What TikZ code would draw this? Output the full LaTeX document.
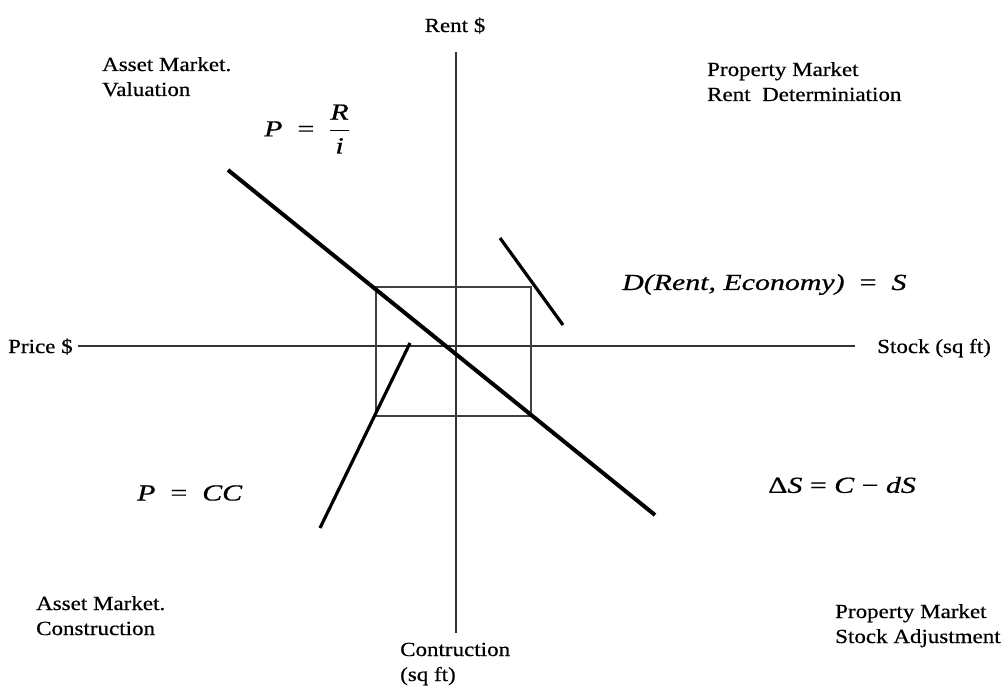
\documentclass[tikz,border=0pt]{standalone}
\usepackage{fontspec}
\setmainfont{Liberation Serif}
\newfontfamily\lblfont[FakeStretch=1.15,FakeBold=0.6]{Liberation Serif}
\newfontfamily\eqfont[FakeStretch=1.3,FakeBold=0.7]{Liberation Serif}
\begin{document}
\begin{tikzpicture}[x=1pt,y=-1pt,
  lbl/.style={anchor=base west,inner sep=0pt,font=\lblfont\fontsize{20}{25}\selectfont,align=left},
  eq/.style={inner sep=0pt,font=\eqfont\fontsize{23}{26}\selectfont\itshape},
  axis/.style={line width=1.8pt,draw=black!80},
  box/.style={line width=1.6pt,draw=black!75},
  curve/.style={line width=4pt,draw=black},
  curvethin/.style={line width=3.2pt,draw=black}]
\useasboundingbox (0,0) rectangle (1007,687);
% axes
\coordinate (vt) at (456,52);
\coordinate (vb) at (456,633);
\coordinate (hl) at (78,346);
\coordinate (hr) at (855,346);
\draw[axis] (vt) -- (vb);
\draw[axis] (hl) -- (hr);
% rectangle
\coordinate (r1) at (376,287);
\coordinate (r2) at (531,416);
\draw[box] (r1) rectangle (r2);
% curves
\coordinate (a1) at (228,170);
\coordinate (a2) at (655,515);
\draw[curve] (a1) -- (a2);
\coordinate (b1) at (500,238);
\coordinate (b2) at (563,325);
\draw[curvethin] (b1) -- (b2);
\coordinate (c1) at (410,343);
\coordinate (c2) at (320,528);
\draw[curvethin] (c1) -- (c2);
% labels (base anchor = baseline of last line)
\node[lbl,anchor=base] (rent) at (455,32) {Rent \$};
\node[lbl] (price) at (8,353) {Price \$};
\node[lbl] (stock) at (877,353) {Stock (sq ft)};
\node[lbl] (contr) at (400,681) {Contruction\\(sq ft)};
\node[lbl] (amv) at (102,96) {Asset Market.\\Valuation};
\node[lbl] (pmr) at (707,101) {Property Market\\Rent\ \ Determiniation};
\node[lbl] (amc) at (36,635) {Asset Market.\\Construction};
\node[lbl] (pms) at (835,643) {Property Market\\Stock Adjustment};
% equations
\node[eq,anchor=west] (e1) at (264,129) {P\ \ {\upshape=}\ \ $\displaystyle\frac{\mbox{\eqfont\itshape R}}{\mbox{\eqfont\itshape i}}$};
\node[eq,anchor=base west] (e2) at (622,290) {D(Rent, Economy)\ \ {\upshape=}\ \ S};
\node[eq,anchor=west] (e3) at (137,493) {P\ \ {\upshape=}\ \ CC};
\node[eq,anchor=west] (e4) at (768,485) {{\upshape Δ}S {\upshape=} C {\upshape −} dS};
\end{tikzpicture}
\end{document}
